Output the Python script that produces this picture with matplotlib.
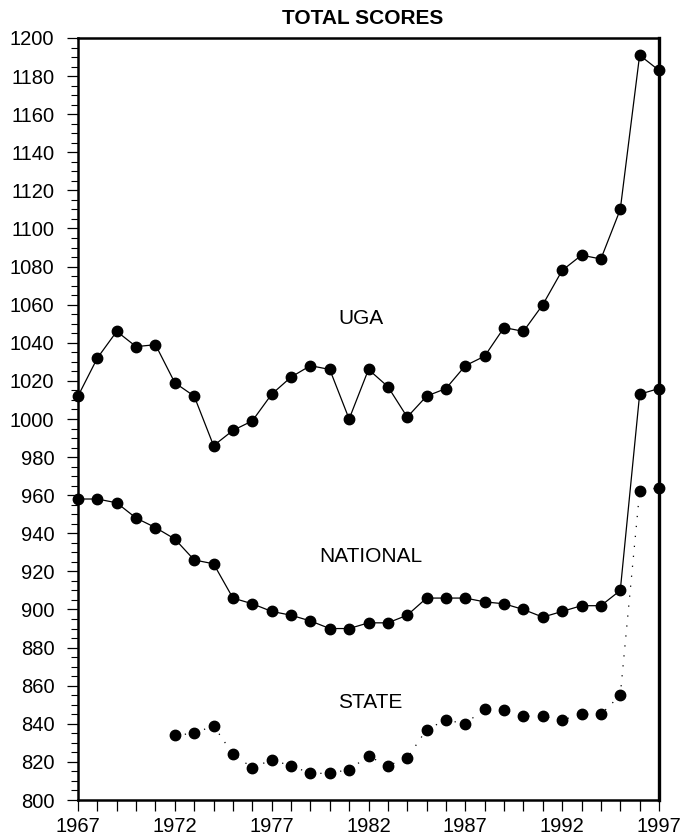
import matplotlib.pyplot as plt
from matplotlib.ticker import MultipleLocator

plt.rcParams['font.family'] = ['Liberation Sans', 'DejaVu Sans']

years = list(range(1967, 1998))

uga = [1012, 1032, 1046, 1038, 1039, 1019, 1012, 986, 994, 999,
       1013, 1022, 1028, 1026, 1000, 1026, 1017, 1001, 1012, 1016,
       1028, 1033, 1048, 1046, 1060, 1078, 1086, 1084, 1110, 1191, 1183]

national = [958, 958, 956, 948, 943, 937, 926, 924, 906, 903,
            899, 897, 894, 890, 890, 893, 893, 897, 906, 906,
            906, 904, 903, 900, 896, 899, 902, 902, 910, 1013, 1016]

state_years = list(range(1972, 1998))
state = [834, 835, 839, 824, 817, 821, 818, 814, 814, 816,
         823, 818, 822, 837, 842, 840, 848, 847, 844, 844,
         842, 845, 845, 855, 962, 964]

labels = ['UGA', 'NATIONAL', 'STATE']
label_x = [1981.6, 1982.1, 1982.1]
label_y = [1053, 928, 851]

fig = plt.figure(figsize=(6.85, 8.38), dpi=100)
ax = fig.add_axes([78/685, 1 - 800/838, (659 - 78)/685, (800 - 38)/838])

ax.plot(years, uga, color='black', lw=0.9, marker='o', markersize=7.5, clip_on=False, zorder=3)
ax.plot(years, national, color='black', lw=0.9, marker='o', markersize=7.5, clip_on=False, zorder=3)
# state line is only faintly dotted in the original
ax.plot(state_years, state, color='black', lw=0.9, linestyle=(0, (1, 7)),
        marker='o', markersize=7.5, clip_on=False, zorder=3)

for name, lx, ly in zip(labels, label_x, label_y):
    ax.text(lx, ly, name, fontsize=15, ha='center', va='center')

ax.set_xlim(1967, 1997)
ax.set_ylim(800, 1200)
ax.set_xticks(range(1967, 1998, 5))
ax.xaxis.set_minor_locator(MultipleLocator(1))
ax.yaxis.set_major_locator(MultipleLocator(20))
ax.yaxis.set_minor_locator(MultipleLocator(5))

ax.tick_params(axis='both', which='major', direction='out', length=8, width=0.9, labelsize=14.5)
ax.tick_params(axis='y', which='major', pad=9)
ax.tick_params(axis='x', which='major', pad=4)
ax.tick_params(axis='y', which='minor', direction='out', length=5, width=0.8)
ax.tick_params(axis='x', which='minor', direction='out', length=8, width=0.9)

for side in ['left', 'bottom', 'top']:
    ax.spines[side].set_linewidth(1.8)
ax.spines['right'].set_linewidth(2.4)

fig.text(363/685, 1 - 19/838, 'TOTAL SCORES', fontsize=15, fontweight='bold',
         ha='center', va='center')

fig.savefig('out.png', dpi=100)
